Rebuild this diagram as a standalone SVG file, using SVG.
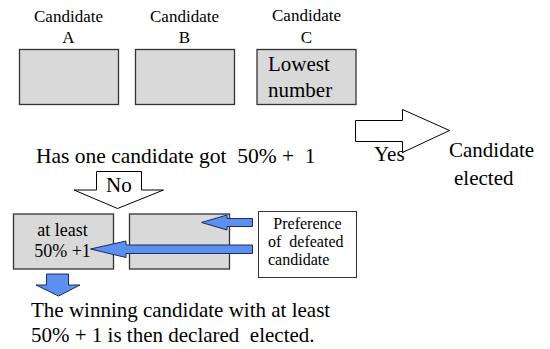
<svg xmlns="http://www.w3.org/2000/svg" width="550" height="349" viewBox="0 0 550 349">
<style>
text{font-family:"Liberation Serif","Times New Roman",serif;fill:#000}
.lbl{font-size:17px}
.big{font-size:21px}
.q{font-size:21.5px}
.mid{font-size:18px}
.sm{font-size:16px}
.box{fill:#d9d9d9;stroke:#333;stroke-width:1.3}
.wbox{fill:#fff;stroke:#333;stroke-width:1}
.warrow{fill:#fff;stroke:#000;stroke-width:1}
.barrow{fill:#5b8ff0;stroke:#1f2a60;stroke-width:1}
</style>
<rect width="550" height="349" fill="#fff"/>
<g id="candA">
<text class="lbl" x="68.5" y="22" text-anchor="middle">Candidate</text>
<text class="lbl" x="68.5" y="43" text-anchor="middle">A</text>
<rect class="box" x="19.5" y="49.5" width="99" height="55"/>
</g>
<g id="candB">
<text class="lbl" x="184.5" y="22" text-anchor="middle">Candidate</text>
<text class="lbl" x="184.5" y="43" text-anchor="middle">B</text>
<rect class="box" x="135.5" y="49.5" width="99" height="55"/>
</g>
<g id="candC">
<text class="lbl" x="306.5" y="21" text-anchor="middle">Candidate</text>
<text class="lbl" x="306.5" y="43" text-anchor="middle">C</text>
<rect class="box" x="257" y="49.5" width="99" height="55"/>
<text class="big" x="268" y="71">Lowest</text>
<text class="big" x="268" y="97">number</text>
</g>
<g id="question">
<text class="q" x="36" y="162.5" xml:space="preserve">Has one candidate got  50% +  1</text>
</g>
<g id="elected">
<text class="big" x="449" y="157">Candidate</text>
<text class="big" x="454" y="185">elected</text>
</g>
<g id="boxWin">
<rect class="box" x="13.5" y="214" width="100" height="55"/>
<text class="mid" x="62.5" y="236" text-anchor="middle">at least</text>
<text class="mid" x="62.5" y="256.5" text-anchor="middle">50% +1</text>
</g>
<g id="boxMid">
<rect class="box" x="129.5" y="214" width="100" height="55"/>
</g>
<g id="preference">
<rect class="wbox" x="258.5" y="211.5" width="98" height="66"/>
<text class="sm" x="307.5" y="228.5" text-anchor="middle">Preference</text>
<text class="sm" x="268" y="246.5" xml:space="preserve">of  defeated</text>
<text class="sm" x="268" y="265">candidate</text>
</g>
<g id="result">
<text class="big" x="31" y="316.5">The winning candidate with at least</text>
<text class="big" x="31" y="341.5" xml:space="preserve">50% + 1 is then declared  elected.</text>
</g>
<g id="connectors">
<path class="warrow" d="M355.5,120.5 H402.5 V109.5 L449.5,130.5 L402.5,152.5 V141.5 H355.5 Z"/>
<text class="big" x="374" y="161">Yes</text>
<path class="warrow" d="M96.5,171.5 H141.5 V190 H163.5 L117.5,208.5 L74,190 H96.5 Z"/>
<text class="big" x="106" y="191.5">No</text>
<path class="barrow" d="M252.5,218.5 H227 V215 L201.5,222.5 L227,230 V226.5 H252.5 Z"/>
<path class="barrow" d="M252.5,245 H126 V241 L90.5,249 L126,257.5 V253.5 H252.5 Z"/>
<path class="barrow" d="M46.5,274 H68.5 V285 H80 L58.5,296 L36,285 H46.5 Z"/>
</g>
</svg>
